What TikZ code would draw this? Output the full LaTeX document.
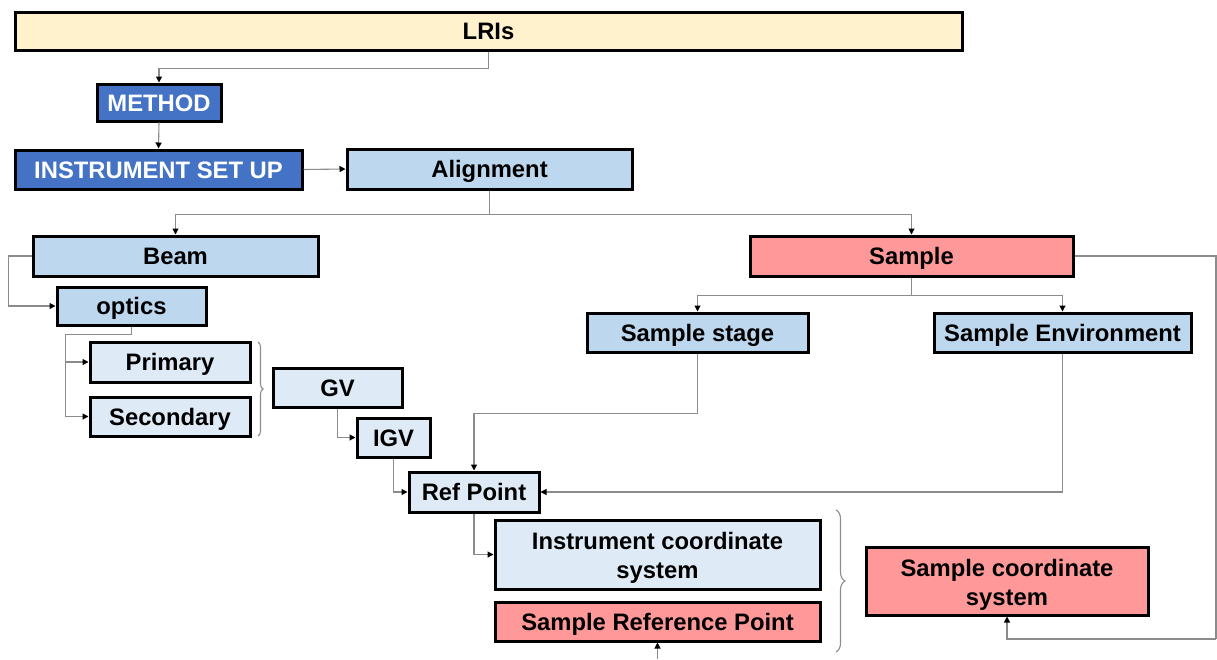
\documentclass[tikz,border=0pt]{standalone}
\usepackage{fontspec}
\setmainfont{Liberation Sans}
\usetikzlibrary{arrows.meta,decorations.pathreplacing}

\definecolor{topyellow}{HTML}{FFF2CC}
\definecolor{darkblue}{HTML}{4472C4}
\definecolor{midblue}{HTML}{BDD7EE}
\definecolor{paleblue}{HTML}{DEEBF7}
\definecolor{salmon}{HTML}{FF9999}
\definecolor{wire}{HTML}{8C8C8C}

\tikzset{
  boxfont/.style={font=\fontsize{23.8}{29}\selectfont\bfseries},
  box/.style={rectangle, draw=black, line width=3pt, inner sep=2pt, boxfont},
  oneline/.style={text height=17pt, text depth=0pt},
  topbox/.style={box, oneline, fill=topyellow},
  headbox/.style={box, oneline, fill=darkblue, text=white},
  midbox/.style={box, oneline, fill=midblue},
  palebox/.style={box, oneline, fill=paleblue},
  redbox/.style={box, oneline, fill=salmon},
  twolines/.style={boxfont, align=center, yshift=-3.5pt},
  palebigbox/.style={box, fill=paleblue},
  redbigbox/.style={box, fill=salmon},
  conn/.style={draw=wire, line width=1.1pt,
    -{Triangle[length=6pt,width=6pt,color=black]}},
  plainconn/.style={draw=wire, line width=1.1pt},
  bracket/.style={draw=wire, line width=1.1pt, decorate,
    decoration={brace, amplitude=#1}},
}

\begin{document}
\begin{tikzpicture}[x=1pt, y=-1pt]
\useasboundingbox (0,0) rectangle (1217,659);

% boxes
\node[topbox, minimum width=947pt, minimum height=38pt] (lri) at (488.5,31) {LRIs};
\node[headbox, minimum width=124pt, minimum height=37pt] (method) at (159,102.5) {METHOD};
\node[headbox, minimum width=287pt, minimum height=39pt] (setup) at (158.5,169.5) {INSTRUMENT SET UP};
\node[midbox, minimum width=285pt, minimum height=40pt] (align) at (489.5,169) {Alignment};
\node[midbox, minimum width=285pt, minimum height=40pt] (beam) at (175.5,256) {Beam};
\node[redbox, minimum width=323pt, minimum height=40pt] (sample) at (911.5,256) {Sample};
\node[midbox, minimum width=149pt, minimum height=38pt] (optics) at (131.5,306) {optics};
\node[midbox, minimum width=221pt, minimum height=39pt] (stage) at (697.5,332.5) {Sample stage};
\node[midbox, minimum width=257pt, minimum height=39pt] (env) at (1062.5,332.5) {Sample Environment};
\node[palebox, minimum width=160pt, minimum height=40pt] (primary) at (170,362) {Primary};
\node[palebox, minimum width=160pt, minimum height=39pt] (secondary) at (170,416.5) {Secondary};
\node[palebox, minimum width=129pt, minimum height=39pt] (gv) at (337.5,387.5) {GV};
\node[palebox, minimum width=73pt, minimum height=39pt] (igv) at (393.5,437.5) {IGV};
\node[palebox, minimum width=130pt, minimum height=40pt] (ref) at (474,492) {Ref Point};
\node[palebigbox, minimum width=325pt, minimum height=69pt,
  label={[twolines]center:Instrument coordinate\\system}] (ics) at (657.5,554.5) {};
\node[redbox, minimum width=325pt, minimum height=39pt] (srp) at (657.5,621.5) {Sample Reference Point};
\node[redbigbox, minimum width=282pt, minimum height=68pt,
  label={[twolines]center:Sample coordinate\\system}] (scs) at (1007,581) {};

% helper points
\coordinate (optbus) at ([xshift=-23pt]primary.west);
\coordinate (rightrail) at (1216,639);
\coordinate (srpfeed) at (657.5,659);

% connectors
\draw[conn] (lri.south) -- ++(0,17) -| (method.north);
\draw[conn] (method.south) -- (setup.north);
\draw[conn] (setup.east) -- (align.west);
\draw[conn] (align.south) -- ++(0,24) -| (beam.north);
\draw[conn] (align.south) -- ++(0,24) -| (sample.north);
\draw[conn] (beam.west) -- ++(-23,0) |- (optics.west);
\draw[plainconn] (optics.south) -- ++(0,8) -| (optbus);
\draw[conn] (optbus) -- (primary.west);
\draw[conn] (optbus) |- (secondary.west);
\draw[conn] (gv.south) |- (igv.west);
\draw[conn] (igv.south) |- (ref.west);
\draw[conn] (sample.south) -- ++(0,18) -| (stage.north);
\draw[conn] (sample.south) -- ++(0,18) -| (env.north);
\draw[conn] (stage.south) -- ++(0,60) -| (ref.north);
\draw[conn] (env.south) |- (ref.east);
\draw[conn] (ref.south) |- (ics.west);
\draw[plainconn] (sample.east) -| (rightrail);
\draw[conn] (rightrail) -| (scs.south);
\draw[conn] (srpfeed) -- (srp.south);

% braces
\draw[bracket=5pt] (258,342) -- (258,436);
\draw[bracket=9pt] (836,510) -- (836,652);
\end{tikzpicture}
\end{document}
